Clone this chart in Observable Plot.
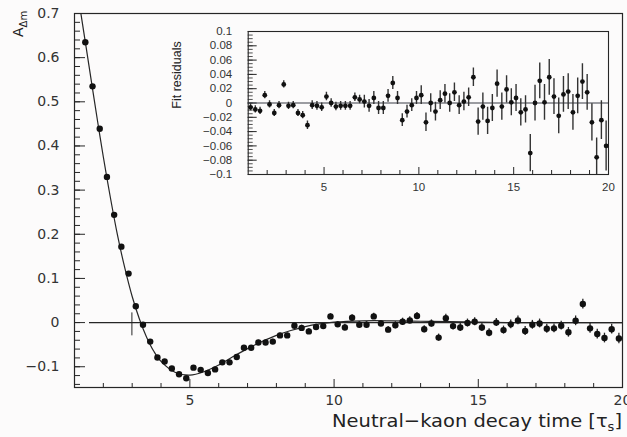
<!DOCTYPE html>
<html><head><meta charset="utf-8">
<script src="https://cdn.jsdelivr.net/npm/d3@7"></script>
<script src="https://cdn.jsdelivr.net/npm/@observablehq/plot@0.6"></script>
<style>
html,body{margin:0;padding:0;background:#fcfbfb;}
#wrap{position:relative;width:627px;height:437px;overflow:hidden;background:#fcfbfb;}
#wrap svg{position:absolute;left:0;top:0;}
</style></head><body><div id="wrap"></div>
<script>
// ---- Main panel: asymmetry A_Δm vs decay time (bin centres) ----
const mainT = [1.375,1.625,1.875,2.125,2.375,2.625,2.875,3.125,3.375,3.625,3.875,4.125,4.375,4.625,4.875,5.125,5.375,5.625,5.875,6.125,6.375,6.625,6.875,7.125,7.375,7.625,7.875,8.125,8.375,8.625,8.875,9.125,9.375,9.625,9.875,10.125,10.375,10.625,10.875,11.125,11.375,11.625,11.875,12.125,12.375,12.625,12.875,13.125,13.375,13.625,13.875,14.125,14.375,14.625,14.875,15.125,15.375,15.625,15.875,16.125,16.375,16.625,16.875,17.125,17.375,17.625,17.875,18.125,18.375,18.625,18.875,19.125,19.375,19.625,19.875];
const mainA = [0.635,0.535,0.439,0.330,0.244,0.172,0.111,0.037,-0.005,-0.043,-0.079,-0.088,-0.104,-0.117,-0.126,-0.102,-0.107,-0.114,-0.106,-0.090,-0.090,-0.078,-0.057,-0.057,-0.045,-0.045,-0.043,-0.029,-0.029,-0.007,-0.012,-0.020,-0.010,-0.008,0.014,-0.004,-0.011,0.011,-0.005,-0.005,0.014,-0.002,-0.016,-0.006,0.002,0.005,0.015,-0.015,-0.002,-0.034,0.010,-0.008,-0.011,-0.001,0.002,-0.011,-0.023,0.000,-0.017,-0.004,0.005,-0.019,-0.005,-0.002,-0.014,-0.013,-0.007,-0.022,0.004,0.042,-0.013,-0.026,-0.035,-0.015,-0.036];
const mainErr = [0.004,0.004,0.004,0.004,0.004,0.004,0.004,0.004,0.004,0.004,0.004,0.004,0.004,0.004,0.004,0.004,0.004,0.004,0.004,0.004,0.005,0.005,0.005,0.005,0.005,0.005,0.005,0.005,0.005,0.005,0.006,0.006,0.006,0.006,0.006,0.006,0.007,0.007,0.007,0.007,0.007,0.007,0.007,0.008,0.008,0.008,0.008,0.008,0.008,0.008,0.009,0.009,0.009,0.009,0.009,0.009,0.009,0.009,0.009,0.010,0.010,0.010,0.010,0.010,0.010,0.010,0.010,0.011,0.011,0.011,0.011,0.011,0.011,0.011,0.012];
// fit curve
const fitT = [1.2,1.4,1.6,1.8,2.0,2.25,2.5,2.75,3.0,3.25,3.5,3.75,4.0,4.5,5.0,5.5,6.0,6.5,7.0,7.5,8.0,8.5,9.0,9.5,10,11,12,13,14,16,20];
const fitA = [0.709,0.625,0.540,0.456,0.375,0.281,0.195,0.122,0.059,0.008,-0.033,-0.065,-0.088,-0.113,-0.119,-0.111,-0.096,-0.077,-0.059,-0.043,-0.029,-0.018,-0.009,-0.003,0.001,0.004,0.004,0.003,0.002,0.0,0.0];
const mainYTicks = [-0.1,0,0.1,0.2,0.3,0.4,0.5,0.6,0.7];
const mainXTicks = [5,10,15,20];

// ---- Inset: fit residuals ----
const resT = [1.125].concat(mainT);
const resV = [-0.006,-0.009,-0.011,0.011,-0.002,-0.014,-0.003,0.026,-0.004,-0.003,-0.014,-0.017,-0.031,-0.003,-0.004,-0.006,0.009,0.000,-0.005,-0.004,-0.004,-0.004,0.008,0.005,0.002,-0.004,0.007,-0.007,-0.007,0.010,0.028,0.007,-0.024,-0.012,-0.003,0.007,0.011,
 -0.027,0.000,-0.012,0.004,0.013,0.000,0.015,-0.003,0.002,0.008,0.036,-0.026,-0.005,-0.025,-0.007,0.027,-0.005,0.019,0.001,0.007,-0.013,-0.009,-0.070,0.000,0.031,0.001,0.036,0.009,-0.018,0.012,0.016,-0.013,0.010,0.030,0.015,-0.027,-0.076,-0.024,-0.060];
const resErr = [0.005,0.005,0.005,0.005,0.005,0.005,0.005,0.005,0.005,0.005,0.005,0.005,0.006,0.006,0.006,0.006,0.006,0.006,0.006,0.006,0.006,0.006,0.006,0.006,0.009,0.009,0.009,0.009,0.009,0.009,0.009,0.009,0.009,0.009,0.009,0.009,0.013,0.013,0.013,0.013,0.013,0.013,0.013,0.013,0.013,0.013,0.013,0.013,0.019,0.019,0.019,0.019,0.019,0.019,0.019,0.019,0.019,0.019,0.019,0.026,0.025,0.025,0.025,0.025,0.025,0.025,0.025,0.025,0.025,0.025,0.025,0.025,0.026,0.027,0.027,0.035];
const resYTicks = [-0.1,-0.08,-0.06,-0.04,-0.02,0,0.02,0.04,0.06,0.08,0.1];
const resXTicks = [5,10,15,20];

const mainPts = mainT.map((t,i)=>({t, a: mainA[i], e: mainErr[i]}));
const resPts = resT.map((t,i)=>({t, r: resV[i], e: resErr[i]}));
const fit = fitT.map((t,i)=>({t, a: fitA[i]}));

const ink = "#262626";
const fmtMain = d => d === 0 ? "0" : (d < 0 ? "\u2212" : "") + Math.abs(d).toFixed(1);
const fmtRes = d => Math.abs(d) < 1e-9 ? "0" : (d < 0 ? "\u2212" : "") + String(+Math.abs(d).toFixed(2));

// main geometry
const W = 627, H = 437;
const mL = 74, mR = 5, mT = 13, mB = 50;
const xDom = [1, 20], yDom = [-0.147, 0.7];
const xpp = (xDom[1]-xDom[0]) / (W - mL - mR);
const ypp = (yDom[1]-yDom[0]) / (H - mT - mB);
const yMinorMain = d3.range(-0.14, 0.7001, 0.02);
const xMinorMain = d3.range(2, 20, 1).filter(v => v % 5 !== 0);

const main = Plot.plot({
  width: W, height: H,
  marginLeft: mL, marginRight: mR, marginTop: mT, marginBottom: mB,
  style: {background: "transparent", fontFamily: "DejaVu Sans", fontSize: "14px", color: "#333"},
  x: {domain: xDom},
  y: {domain: yDom},
  marks: [
    Plot.frame({stroke: ink, strokeWidth: 1.2}),
    Plot.ruleY(mainYTicks, {x1: xDom[0], x2: xDom[0] + 11*xpp, stroke: ink}),
    Plot.ruleY(yMinorMain, {x1: xDom[0], x2: xDom[0] + 6*xpp, stroke: ink}),
    Plot.ruleX([5,10,15], {y1: yDom[0], y2: yDom[0] + 8*ypp, stroke: ink}),
    Plot.ruleX(xMinorMain, {y1: yDom[0], y2: yDom[0] + 4*ypp, stroke: ink}),
    Plot.axisY({ticks: mainYTicks, tickSize: 0, tickPadding: 15, tickFormat: fmtMain, label: null}),
    Plot.axisX({ticks: mainXTicks, tickSize: 0, tickPadding: 8, tickFormat: d => String(d), label: null}),
    Plot.ruleY([0], {x1: 1.52, x2: 20, stroke: ink, strokeWidth: 1.2}),
    Plot.ruleX([2.99], {y1: -0.03, y2: 0.022, stroke: ink}),
    Plot.line(fit, {x: "t", y: "a", curve: "catmull-rom", stroke: ink, strokeWidth: 1.2, clip: true}),
    Plot.ruleX(mainPts, {x: "t", y1: d => d.a - d.e, y2: d => d.a + d.e, stroke: ink, strokeWidth: 1.3}),
    Plot.dot(mainPts, {x: "t", y: "a", r: 3.2, fill: "#111", stroke: "none"})
  ]
});

// inset geometry
const iW = 627, iH = 200;
const iL = 247.7, iR = 19, iT = 31, iB = 26;
const rDom = [-0.1, 0.1];
const ixpp = (xDom[1]-xDom[0]) / (iW - iL - iR);
const iypp = (rDom[1]-rDom[0]) / (iH - iT - iB);
const rMinor = d3.range(-0.095, 0.1, 0.005);
const xMinorIns = d3.range(2, 20, 1).filter(v => v % 5 !== 0);

const inset = Plot.plot({
  width: iW, height: iH,
  marginLeft: iL, marginRight: iR, marginTop: iT, marginBottom: iB,
  style: {background: "transparent", fontFamily: "Liberation Sans", fontSize: "11.5px", color: "#333"},
  x: {domain: xDom},
  y: {domain: rDom},
  marks: [
    Plot.frame({stroke: ink, strokeWidth: 1.1}),
    Plot.ruleY(resYTicks, {x1: xDom[0], x2: xDom[0] + 9*ixpp, stroke: ink}),
    Plot.ruleY(rMinor, {x1: xDom[0], x2: xDom[0] + 5*ixpp, stroke: ink, strokeWidth: 0.8}),
    Plot.ruleX([5,10,15], {y1: rDom[0], y2: rDom[0] + 7*iypp, stroke: ink}),
    Plot.ruleX(xMinorIns, {y1: rDom[0], y2: rDom[0] + 4*iypp, stroke: ink}),
    Plot.axisY({ticks: resYTicks, tickSize: 0, tickPadding: 16, tickFormat: fmtRes, label: null}),
    Plot.axisX({ticks: resXTicks, tickSize: 0, tickPadding: 8, tickFormat: d => String(d), label: null}),
    Plot.ruleY([0], {stroke: "#3a3f48", strokeWidth: 1.2}),
    Plot.ruleX(resPts, {x: "t", y1: d => d.r - d.e, y2: d => d.r + d.e, stroke: "#333", strokeWidth: 1.4, clip: true}),
    Plot.dot(resPts, {x: "t", y: "r", r: 2.4, fill: "#111", stroke: "none"})
  ]
});

const wrap = document.getElementById("wrap");
wrap.appendChild(main);
wrap.appendChild(inset);

// axis titles
const ms = d3.select(main);
const yg = ms.append("g").attr("transform", "translate(23,37) rotate(-90)");
const ya = yg.append("text")
  .attr("x", 0).attr("y", 0)
  .attr("text-anchor", "start")
  .attr("font-family", "DejaVu Sans").attr("font-size", 14).attr("fill", "#222");
ya.append("tspan").text("A");
ya.append("tspan").attr("font-size", 10).attr("dy", 4).text("\u0394m");

const xa = ms.append("text")
  .attr("x", 332).attr("y", 427)
  .attr("text-anchor", "start")
  .attr("font-family", "DejaVu Sans").attr("font-size", 18).attr("fill", "#222")
  .attr("textLength", 290).attr("lengthAdjust", "spacingAndGlyphs");
xa.append("tspan").text("Neutral\u2212kaon decay time [\u03C4");
xa.append("tspan").attr("font-size", 12).attr("dy", 4).text("s");
xa.append("tspan").attr("dy", -4).text("]");

d3.select(inset).append("g").attr("transform", "translate(181,75) rotate(-90)")
  .append("text")
  .attr("text-anchor", "middle")
  .attr("font-family", "Liberation Sans").attr("font-size", 12.5).attr("fill", "#222")
  .text("Fit residuals");
</script></body></html>
